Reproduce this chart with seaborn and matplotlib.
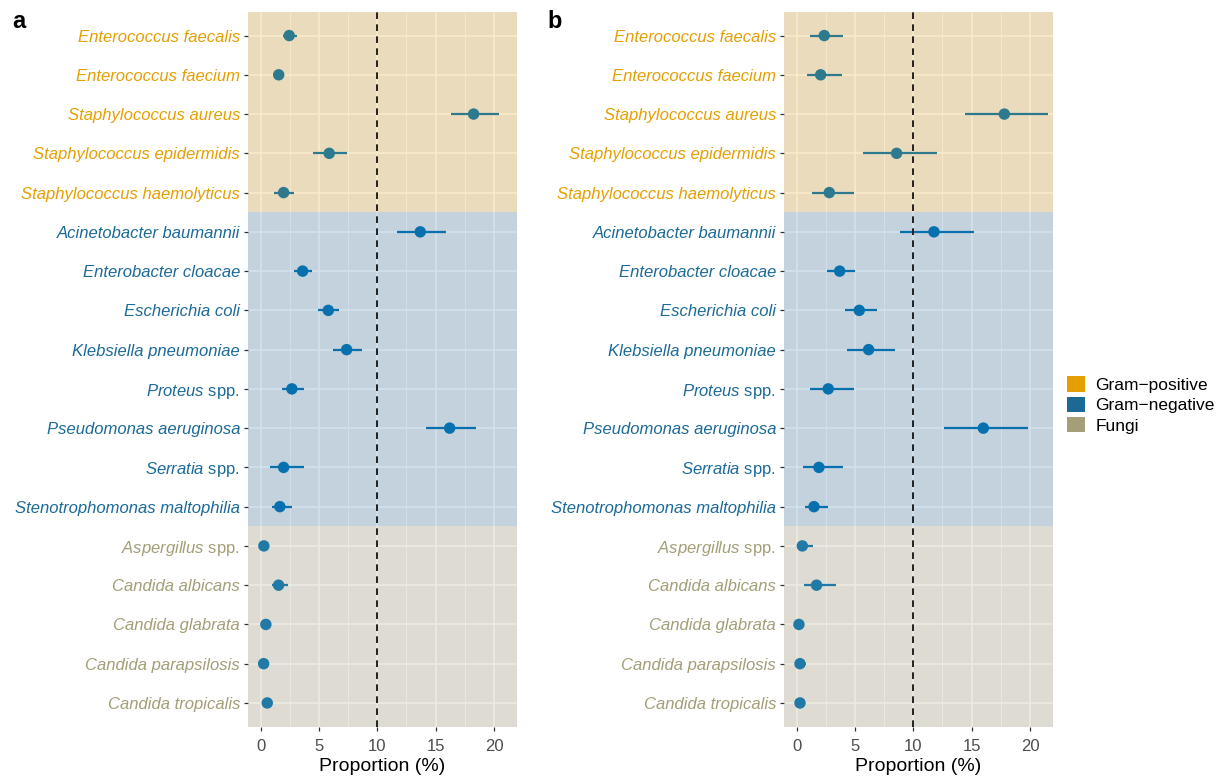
import matplotlib
matplotlib.use("Agg")
import matplotlib.pyplot as plt
from matplotlib.patches import Patch
import seaborn as sns
import pandas as pd
import numpy as np

# ---------------- data ----------------
species = [
    "Enterococcus faecalis", "Enterococcus faecium", "Staphylococcus aureus",
    "Staphylococcus epidermidis", "Staphylococcus haemolyticus",
    "Acinetobacter baumannii", "Enterobacter cloacae", "Escherichia coli",
    "Klebsiella pneumoniae", "Proteus spp.", "Pseudomonas aeruginosa",
    "Serratia spp.", "Stenotrophomonas maltophilia",
    "Aspergillus spp.", "Candida albicans", "Candida glabrata",
    "Candida parapsilosis", "Candida tropicalis",
]
groups = ["Gram\u2212positive"] * 5 + ["Gram\u2212negative"] * 8 + ["Fungi"] * 5
group_names = ["Gram\u2212positive", "Gram\u2212negative", "Fungi"]

a_est = [2.45, 1.55, 18.25, 5.88, 1.97, 13.68, 3.6, 5.8, 7.37, 2.68, 16.2, 1.97, 1.65, 0.28, 1.54, 0.45, 0.26, 0.57]
a_lo = [1.9, 1.3, 16.3, 4.48, 1.17, 11.7, 2.88, 4.88, 6.17, 1.85, 14.17, 0.77, 0.97, 0.1, 0.97, 0.25, 0.1, 0.35]
a_hi = [3.1, 1.8, 20.4, 7.37, 2.88, 15.9, 4.37, 6.71, 8.71, 3.68, 18.48, 3.68, 2.68, 0.5, 2.31, 0.7, 0.5, 0.85]

b_est = [2.37, 2.06, 17.8, 8.57, 2.8, 11.77, 3.69, 5.37, 6.17, 2.71, 16.0, 1.91, 1.49, 0.49, 1.71, 0.2, 0.29, 0.29]
b_lo = [1.11, 0.91, 14.42, 5.71, 1.31, 8.83, 2.6, 4.11, 4.31, 1.11, 12.63, 0.51, 0.69, 0.1, 0.6, 0.05, 0.1, 0.1]
b_hi = [4.0, 3.91, 21.5, 12.0, 4.88, 15.2, 5.03, 6.86, 8.4, 4.88, 19.8, 4.0, 2.71, 1.4, 3.37, 0.45, 0.83, 0.55]

x_ticks = [0, 5, 10, 15, 20]
threshold = 10
panel_labels = ["a", "b"]
x_label = "Proportion (%)"

# ---------------- style ----------------
group_colors = {"Gram\u2212positive": "#E69F00", "Gram\u2212negative": "#236EA0", "Fungi": "#AA9B73"}
label_colors = {"Gram\u2212positive": "#E69F00", "Gram\u2212negative": "#1C6A98", "Fungi": "#A39E77"}
legend_colors = {"Gram\u2212positive": "#E69F00", "Gram\u2212negative": "#1D6996", "Fungi": "#A59F77"}
point_color = "#0072B2"

sns.set_theme(style="darkgrid", rc={
    "axes.facecolor": "#EBEBEB",
    "grid.color": "white",
    "axes.edgecolor": "none",
    "text.color": "black",
    "axes.labelcolor": "black",
})
plt.rcParams["font.family"] = ["Liberation Sans", "DejaVu Sans"]
plt.rcParams["mathtext.fontset"] = "custom"
plt.rcParams["mathtext.it"] = "Liberation Sans:italic"
plt.rcParams["mathtext.rm"] = "Liberation Sans"

W, H = 1217, 776
fig = plt.figure(figsize=(W / 100, H / 100), dpi=100)

ax_a = fig.add_axes([248 / W, 1 - 726.5 / H, 269 / W, (726.5 - 12) / H])
ax_b = fig.add_axes([784 / W, 1 - 726.5 / H, 269 / W, (726.5 - 12) / H])

n = len(species)
pos = np.arange(n)


def tick_text(name):
    if name.endswith(" spp."):
        genus = name[:-5]
        return r"$\mathit{" + genus + "}$ spp.", False
    return name, True


def draw_panel(ax, est, lo, hi):
    df = pd.DataFrame({"species": species, "pos": pos, "est": est, "lo": lo, "hi": hi, "group": groups})
    ax.hlines(df["pos"], df["lo"], df["hi"], color=point_color, lw=1.6, zorder=2)
    sns.scatterplot(data=df, x="est", y="pos", ax=ax, color=point_color, s=68,
                    edgecolor="none", zorder=2.5, legend=False)
    # bands
    ymin, ymax = -0.6, n - 1 + 0.6
    bounds = []
    start = 0
    for g in group_names:
        cnt = groups.count(g)
        bounds.append((g, start - 0.5, start + cnt - 0.5))
        start += cnt
    for i, (g, b0, b1) in enumerate(bounds):
        if i == 0:
            b0 = ymin
        if i == len(bounds) - 1:
            b1 = ymax
        ax.axhspan(b0, b1, color=group_colors[g], alpha=0.2, lw=0, zorder=3)
    ax.axvline(threshold, color="black", lw=1.2, ls=(0, (4, 3.2)), zorder=4)

    ax.set_xlim(-1.08, 21.97)
    ax.set_ylim(ymax, ymin)
    ax.set_xticks(x_ticks)
    ax.set_xticks([2.5, 7.5, 12.5, 17.5], minor=True)
    ax.set_yticks(pos)
    ax.set_yticklabels([tick_text(s)[0] for s in species])
    for lab, s, g in zip(ax.get_yticklabels(), species, groups):
        t, it = tick_text(s)
        lab.set_color(label_colors[g])
        lab.set_fontstyle("italic" if it else "normal")
        lab.set_fontsize(12)
    ax.grid(True, which="major", color="white", lw=1.1)
    ax.grid(True, which="minor", axis="x", color="white", lw=0.55)
    ax.set_axisbelow(True)
    ax.tick_params(axis="y", which="major", length=3.2, width=0.9, color="#333333",
                   pad=2.5, labelsize=12, left=True)
    ax.tick_params(axis="x", which="major", length=3.2, width=0.9, color="#333333",
                   pad=5.5, labelsize=12, bottom=True, labelcolor="#4D4D4D")
    ax.tick_params(axis="both", which="minor", length=0)
    ax.set_xlabel(x_label, fontsize=14, color="black", labelpad=3.5)
    ax.set_ylabel("")
    for sp in ax.spines.values():
        sp.set_visible(False)


draw_panel(ax_a, a_est, a_lo, a_hi)
draw_panel(ax_b, b_est, b_lo, b_hi)

fig.text(12 / W, 1 - 22 / H, panel_labels[0], fontsize=17, fontweight="bold", va="center", ha="left", color="black")
fig.text(547 / W, 1 - 22 / H, panel_labels[1], fontsize=17, fontweight="bold", va="center", ha="left", color="black")

handles = [Patch(facecolor=legend_colors[g], edgecolor="none", label=g) for g in group_names]
leg = fig.legend(handles=handles, loc="center left", bbox_to_anchor=(1064 / W, 1 - 405 / H),
                 frameon=False, fontsize=12.5, handlelength=1.0, handleheight=1.0,
                 labelspacing=0.2, handletextpad=0.6, borderaxespad=0, borderpad=0.2)
for t in leg.get_texts():
    t.set_color("black")

fig.savefig("out.png", dpi=100)
